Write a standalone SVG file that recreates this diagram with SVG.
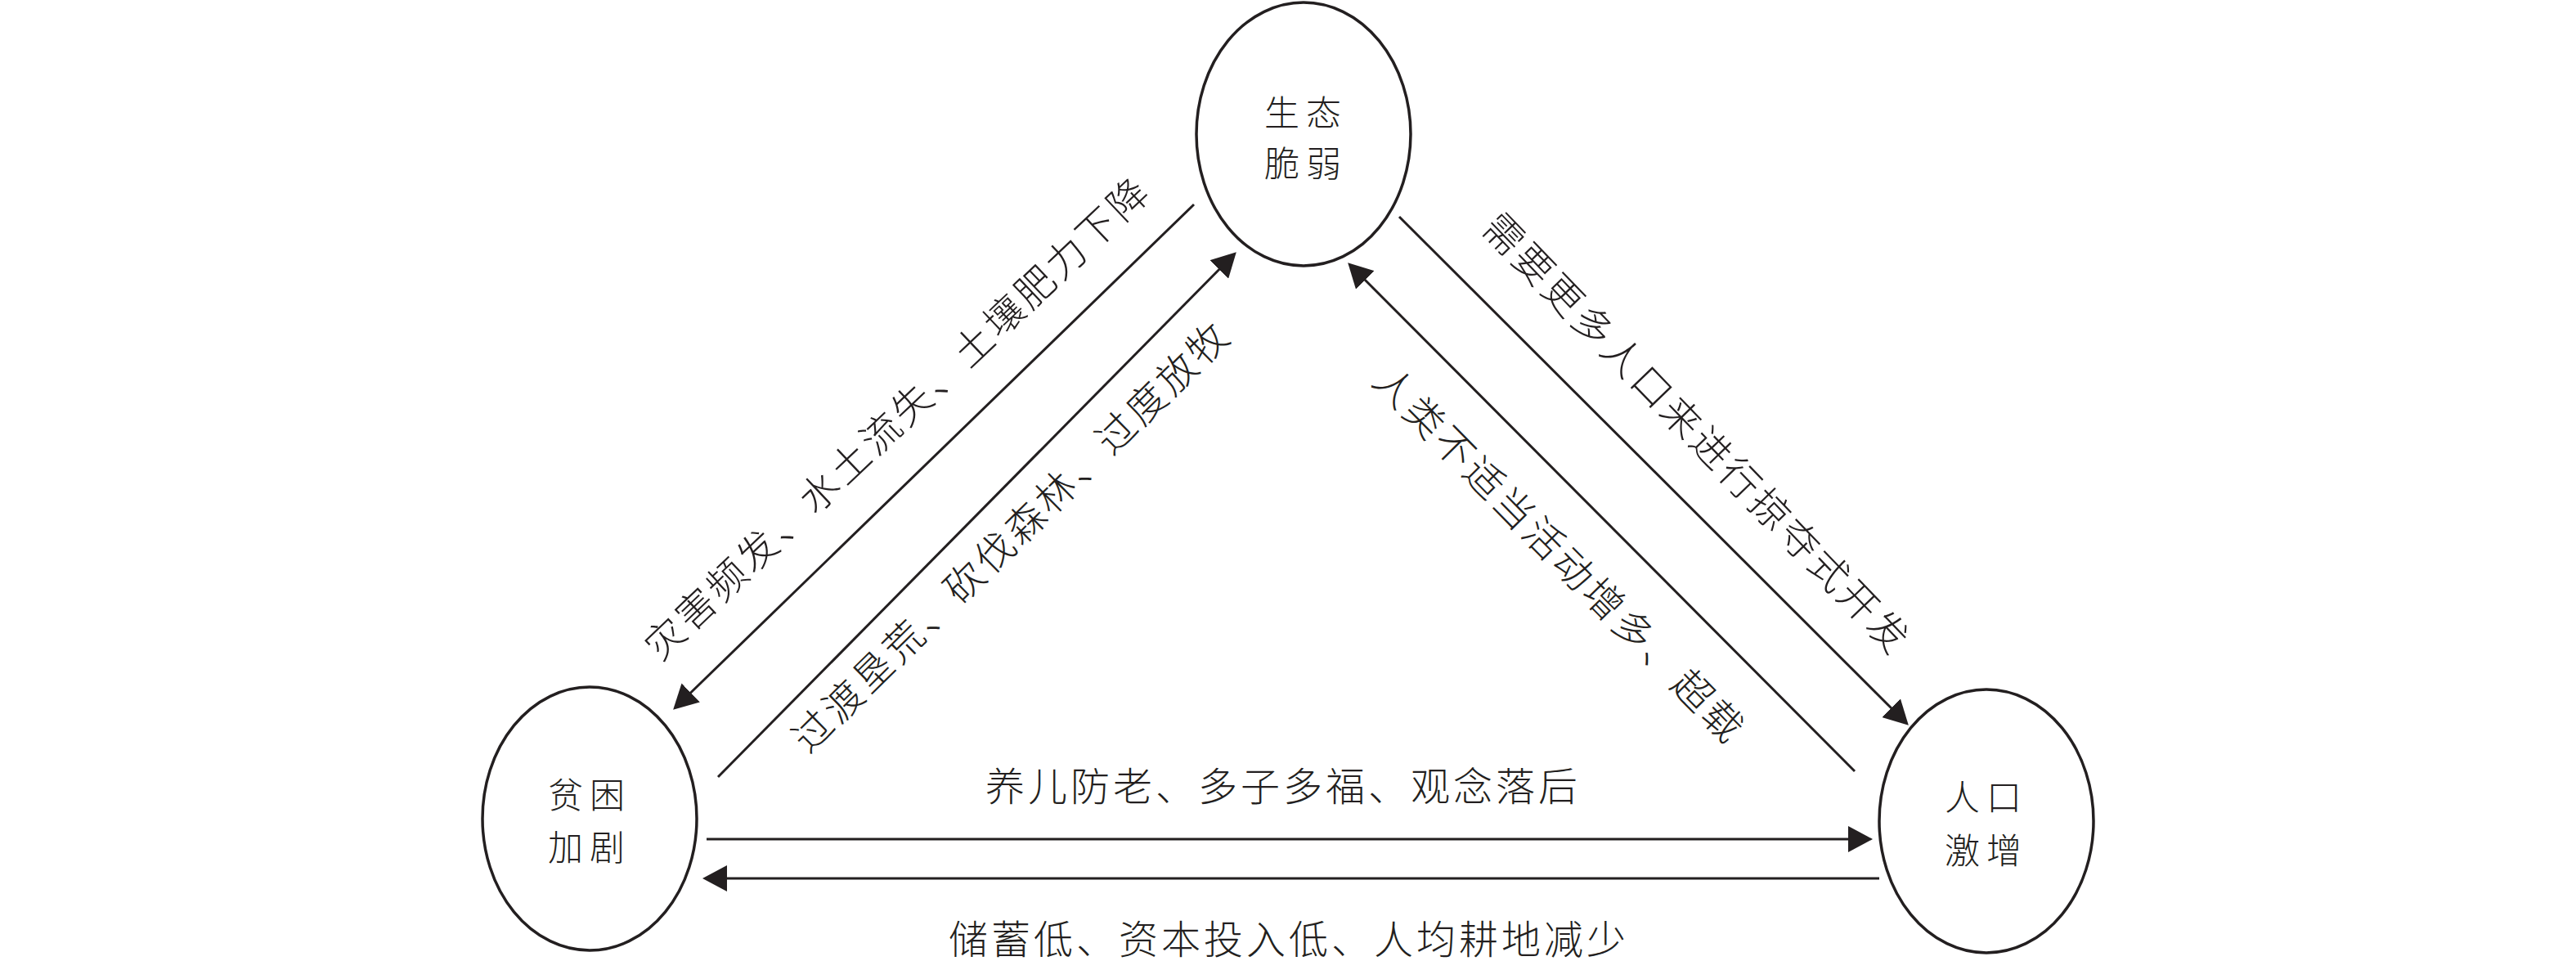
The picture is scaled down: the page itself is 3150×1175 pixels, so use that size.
<svg xmlns="http://www.w3.org/2000/svg" width="3150" height="1175" viewBox="0 0 3150 1175">
<style>
.node ellipse{fill:#ffffff;stroke:#231f20;stroke-width:3.5}
.lbl{font-family:"Noto Sans CJK SC","Noto Sans CJK TC",sans-serif;font-size:48px;font-weight:300;fill:#231f20;text-anchor:middle;dominant-baseline:central;letter-spacing:4px}
.nl{font-family:"Noto Sans CJK SC","Noto Sans CJK TC",sans-serif;font-size:43px;font-weight:300;fill:#231f20;text-anchor:middle;dominant-baseline:central;letter-spacing:8px}
.conn path{fill:none;stroke:#231f20;stroke-width:3}
</style>
<defs>
<marker id="arr" viewBox="0 0 30 32" markerWidth="30" markerHeight="32" refX="26" refY="16" orient="auto" markerUnits="userSpaceOnUse">
<path d="M0,0 L30,16 L0,32 z" fill="#231f20"/>
</marker>
</defs>
<rect width="3150" height="1175" fill="#ffffff"/>
<g id="connectors" class="conn">
<path id="c1" d="M1460,250 L826,865" marker-end="url(#arr)"/>
<path id="c2" d="M878,950 L1509,311" marker-end="url(#arr)"/>
<path id="c3" d="M1711,265 L2331,884" marker-end="url(#arr)"/>
<path id="c4" d="M2268,943 L1651,324" marker-end="url(#arr)"/>
<path id="c5" d="M864,1026 L2286,1026" marker-end="url(#arr)"/>
<path id="c6" d="M2298,1074 L863,1074" marker-end="url(#arr)"/>
</g>
<g id="edge-labels">
<text class="lbl" x="1095" y="508" transform="rotate(-43.5 1095 508)">灾害频发、水土流失、土壤肥力下降</text>
<text class="lbl" x="1234" y="653" transform="rotate(-44.5 1234 653)">过渡垦荒、砍伐森林、过度放牧</text>
<text class="lbl" x="2078" y="528" transform="rotate(46 2078 528)">需要更多人口来进行掠夺式开发</text>
<text class="lbl" x="1910" y="676" transform="rotate(45.5 1910 676)">人类不适当活动增多、超载</text>
<text class="lbl" x="1569" y="958">养儿防老、多子多福、观念落后</text>
<text class="lbl" x="1576" y="1145">储蓄低、资本投入低、人均耕地减少</text>
</g>
<g id="node-eco" class="node">
<ellipse cx="1594" cy="164" rx="131" ry="161"/>
<text class="nl" x="1597" y="135">生态</text>
<text class="nl" x="1597" y="197">脆弱</text>
</g>
<g id="node-poverty" class="node">
<ellipse cx="721" cy="1001" rx="131" ry="161"/>
<text class="nl" x="721" y="969">贫困</text>
<text class="nl" x="721" y="1033">加剧</text>
</g>
<g id="node-population" class="node">
<ellipse cx="2429" cy="1004" rx="131" ry="161"/>
<text class="nl" x="2429" y="972">人口</text>
<text class="nl" x="2429" y="1037">激增</text>
</g>
</svg>
